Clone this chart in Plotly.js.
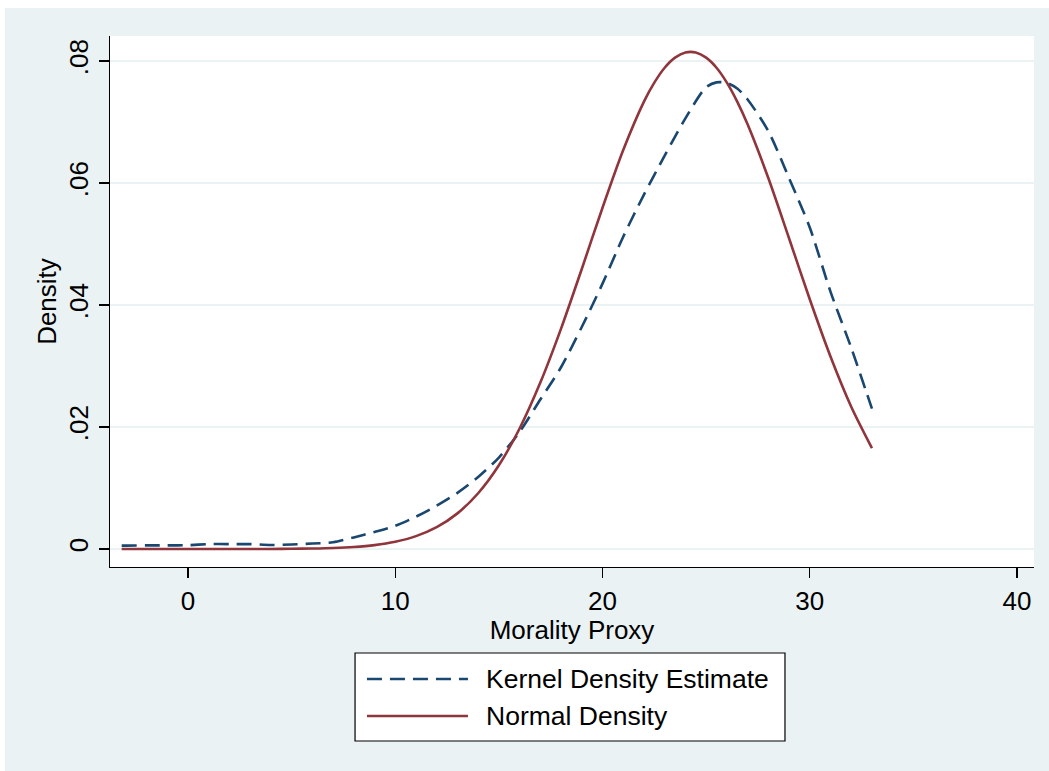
<!DOCTYPE html>
<html>
<head>
<meta charset="utf-8">
<script src="https://cdn.plot.ly/plotly-3.0.1.min.js"></script>
<style>
html,body{margin:0;padding:0;background:#ffffff;}
#chart{position:absolute;left:5px;top:8px;width:1044px;height:763px;}
</style>
</head>
<body>
<div id="chart"></div>
<script>
// Morality Proxy grid (x values)
const xKde = [-3.2,-3,-2,-1,0,1,2,3,4,5,6,7,8,9,10,11,12,13,14,15,16,17,18,19,20,21,22,23,24,25,25.5,26,26.5,27,28,29,30,31,32,33];
const kdeValues = [0.00055,0.00056,0.0006,0.0006,0.00062,0.0008,0.0008,0.0008,0.00065,0.00075,0.0009,0.0011,0.0019,0.0028,0.0038,0.0053,0.0071,0.0092,0.0118,0.0150,0.0192,0.0245,0.0298,0.0364,0.0435,0.0512,0.0581,0.0645,0.0706,0.0757,0.0765,0.0764,0.0755,0.0737,0.0685,0.0608,0.0527,0.0422,0.0330,0.0230];

const xNormal = [-3.2,-3,-2,-1,0,1,2,3,4,5,6,7,8,9,10,11,12,13,14,15,16,17,18,19,20,21,22,22.5,23,23.5,24,24.5,25,25.5,26,26.5,27,28,29,30,31,32,33];
const normalValues = [0,0,0,0,0,0,0,0,0.000005,0.000036,0.00008,0.000165,0.000333,0.000642,0.00119,0.00211,0.00358,0.00584,0.00914,0.01372,0.01976,0.02728,0.03613,0.04591,0.05595,0.06541,0.07335,0.07646,0.0789,0.08055,0.0814,0.0814,0.08055,0.0789,0.07646,0.07335,0.06962,0.06082,0.05095,0.04094,0.03156,0.02333,0.01655];

const yTickVals = [0, 0.02, 0.04, 0.06, 0.08];
const yTickText = ["0", ".02", ".04", ".06", ".08"];
const xTickVals = [0, 10, 20, 30, 40];
const xTickText = ["0", "10", "20", "30", "40"];
const seriesNames = ["Kernel Density Estimate", "Normal Density"];
const seriesColors = ["#1a476f", "#90353b"];

const FONT = "Liberation Sans, Arial, Helvetica, sans-serif";

const traces = [
  {x: xKde, y: kdeValues, type: "scatter", mode: "lines", name: seriesNames[0],
   line: {color: seriesColors[0], width: 2.6, dash: "15px,8px", shape: "spline", smoothing: 0.8}, showlegend: false},
  {x: xNormal, y: normalValues, type: "scatter", mode: "lines", name: seriesNames[1],
   line: {color: seriesColors[1], width: 2.6, shape: "spline", smoothing: 0.8}, showlegend: false}
];

// legend box geometry in paper coordinates
const lgX0 = 0.2652, lgX1 = 0.7305, lgY0 = -0.3277, lgY1 = -0.162;
const lgRowY = [-0.2109, -0.2806];
const lgLineX0 = 0.2781, lgLineX1 = 0.3874, lgTextX = 0.4048;

const shapes = [
  {type: "rect", xref: "paper", yref: "paper", x0: lgX0, x1: lgX1, y0: lgY0, y1: lgY1,
   fillcolor: "#ffffff", line: {color: "#000000", width: 1.2}}
];
const annotations = [];
seriesNames.forEach((nm, i) => {
  shapes.push({type: "line", xref: "paper", yref: "paper", x0: lgLineX0, x1: lgLineX1, y0: lgRowY[i], y1: lgRowY[i],
    line: {color: seriesColors[i], width: 2.6, dash: i === 0 ? "15px,8px" : "solid"}});
  annotations.push({xref: "paper", yref: "paper", x: lgTextX, y: lgRowY[i], xanchor: "left", yanchor: "middle",
    text: nm, showarrow: false, font: {family: FONT, size: 26.5, color: "#000000"}});
});

const layout = {
  width: 1044, height: 763,
  margin: {l: 105, r: 15, t: 28, b: 204},
  paper_bgcolor: "#eaf2f3",
  plot_bgcolor: "#ffffff",
  showlegend: false,
  font: {family: FONT, size: 26, color: "#000000"},
  xaxis: {
    range: [-3.764, 40.82], tickvals: xTickVals, ticktext: xTickText,
    ticks: "outside", ticklen: 10, tickwidth: 1.2, tickcolor: "#000000",
    showline: true, linecolor: "#000000", linewidth: 1.3,
    showgrid: false, zeroline: false,
    tickfont: {family: FONT, size: 26, color: "#000000"},
    title: {text: "Morality Proxy", font: {family: FONT, size: 26, color: "#000000"}, standoff: 0},
    automargin: false
  },
  yaxis: {
    range: [-0.00295, 0.0841], tickvals: yTickVals, ticktext: yTickText,
    ticks: "outside", ticklen: 10, tickwidth: 1.2, tickcolor: "#000000", tickangle: -90,
    showline: true, linecolor: "#000000", linewidth: 1.3,
    showgrid: true, gridcolor: "#eaf2f3", gridwidth: 2, zeroline: false,
    tickfont: {family: FONT, size: 26, color: "#000000"},
    title: {text: "Density", font: {family: FONT, size: 26, color: "#000000"}, standoff: 0},
    automargin: false
  },
  shapes: shapes,
  annotations: annotations
};

Plotly.newPlot("chart", traces, layout, {displayModeBar: false, staticPlot: true});
</script>
</body>
</html>
